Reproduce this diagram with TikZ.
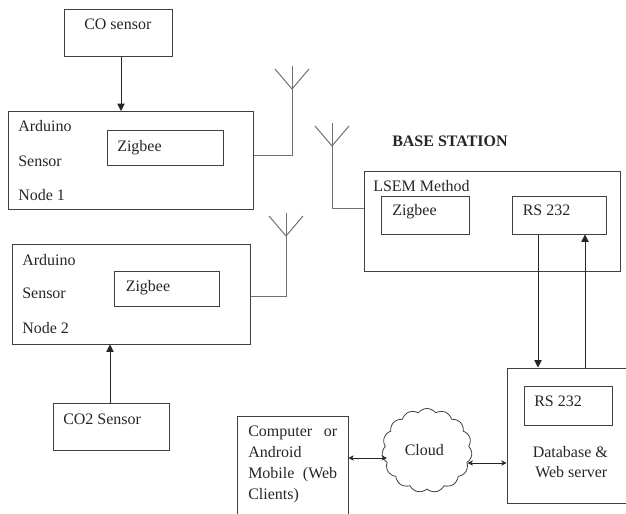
\documentclass[tikz,border=0pt]{standalone}
\usepackage{fontspec}
\setmainfont{Liberation Serif}
\usepackage{xcolor}
\definecolor{boxgray}{HTML}{404040}
\definecolor{aergray}{HTML}{707070}
\usepackage{tikz}
\usetikzlibrary{arrows.meta,shapes.symbols}

\begin{document}
\begin{tikzpicture}[
      x=0.75pt, y=-0.75pt,
      box/.style 2 args={draw=boxgray, line width=0.75pt, inner sep=0pt, minimum width=#1*0.75pt, minimum height=#2*0.75pt},
      lbl/.style={anchor=base west, inner sep=0pt, text=black!85, font=\fontsize{12}{14}\selectfont},
      aer/.style={draw=aergray, line width=0.75pt},
      arr/.style={draw=black!85, line width=0.7pt, -{Triangle[length=5.5pt,width=5.5pt]}},
      dbl/.style={draw=black!85, line width=0.5pt, {Stealth[length=4pt,width=4pt]}-{Stealth[length=4pt,width=4pt]}}
    ]
    \useasboundingbox (0,0) rectangle (626,514);
    \clip (0,0) rectangle (626,514);
    \node[box={108}{47}] (cosens) at (118,32.5) {};
    \node[box={245}{97.5}] (node1) at (130.5,160.25) {};
    \node[box={116}{35}] (zig1) at (165,147.5) {};
    \node[box={237.5}{100}] (node2) at (131.25,294) {};
    \node[box={105}{35}] (zig2) at (166.5,288.5) {};
    \node[box={116}{47}] (cotwo) at (111,426.5) {};
    \node[box={256}{100}] (base) at (492,221) {};
    \node[box={88}{38}] (zig3) at (425,215) {};
    \node[box={94}{38}] (rsbase) at (559,215) {};
    \node[box={130}{135}] (server) at (572,435.5) {};
    \node[box={88}{39}] (rsserver) at (568,405.5) {};
    \node[box={111}{120}] (clients) at (292.5,476) {};
    \node[cloud, cloud puffs=15, cloud puff arc=105, aspect=1.1, draw=boxgray, line width=0.6pt, inner sep=0pt, minimum width=67.5pt, minimum height=63pt] (cloud) at (427,450.5) {};
    % texts
    \node[lbl] (cotxt) at (84,30) {CO sensor};
    \node[lbl] (ard1) at (18,131.5) {Arduino};
    \node[lbl] (sen1) at (18,166) {Sensor};
    \node[lbl] (num1) at (18,200) {Node 1};
    \node[lbl] (ztxt1) at (117,151.5) {Zigbee};
    \node[lbl] (ard2) at (22,265) {Arduino};
    \node[lbl] (sen2) at (22,298.5) {Sensor};
    \node[lbl] (num2) at (22,333) {Node 2};
    \node[lbl] (ztxt2) at (125.5,291.5) {Zigbee};
    \node[lbl] (twotxt) at (63,424) {CO2 Sensor};
    \node[lbl, font=\fontsize{12}{14}\selectfont\bfseries] (title) at (392,146.5) {BASE STATION};
    \node[lbl] (lsem) at (373,191.5) {LSEM Method};
    \node[lbl] (ztxt3) at (392,215.5) {Zigbee};
    \node[lbl] (rstxt1) at (522.5,215.5) {RS 232};
    \node[lbl] (rstxt2) at (534,406.5) {RS 232};
    \node[lbl] (dbtxt) at (532.5,457.5) {Database \&};
    \node[lbl] (webtxt) at (535,477.5) {Web server};
    \node[lbl] (cmp) at (248,436) {Computer};
    \node[lbl, anchor=base east] (ortxt) at (337.5,436) {or};
    \node[lbl] (andr) at (248,457.5) {Android};
    \node[lbl] (mob) at (248,478) {Mobile};
    \node[lbl, anchor=base east] (webcl) at (337.5,478) {(Web};
    \node[lbl] (cli) at (248,499.5) {Clients)};
    \node[lbl] (cldtxt) at (404.5,455) {Cloud};
    % aerials
    \foreach \ant/\ax/\ay in {aer1/292/89, aer2/286/236, aer3/332/146} {
      \coordinate (\ant) at (\ax,\ay);
      \draw[aer] (\ant) -- ++(0,-23);
      \draw[aer] (\ant) -- ++(-17,-20);
      \draw[aer] (\ant) -- ++(17,-20);
    }
    \draw[aer] (node1.east |- 0,155) -| (aer1);
    \draw[aer] (node2.east |- 0,296) -| (aer2);
    \draw[aer] (base.west |- 0,208) -| (aer3);
    % links
    \draw[arr] (cosens.south -| 121,0) -- (node1.north -| 121,0);
    \draw[arr] (cotwo.north -| 110,0) -- (node2.south -| 110,0);
    \draw[arr] (rsbase.south -| 538,0) -- (server.north -| 538,0);
    \draw[arr] (server.north -| 585,0) -- (rsbase.south -| 585,0);
    \draw[dbl, shorten >=-3.5pt] (clients.east |- 0,458) -- (cloud.west |- 0,458);
    \draw[dbl, shorten <=-3pt] (cloud.east |- 0,463) -- (server.west |- 0,463);
  \end{tikzpicture}
\end{document}
